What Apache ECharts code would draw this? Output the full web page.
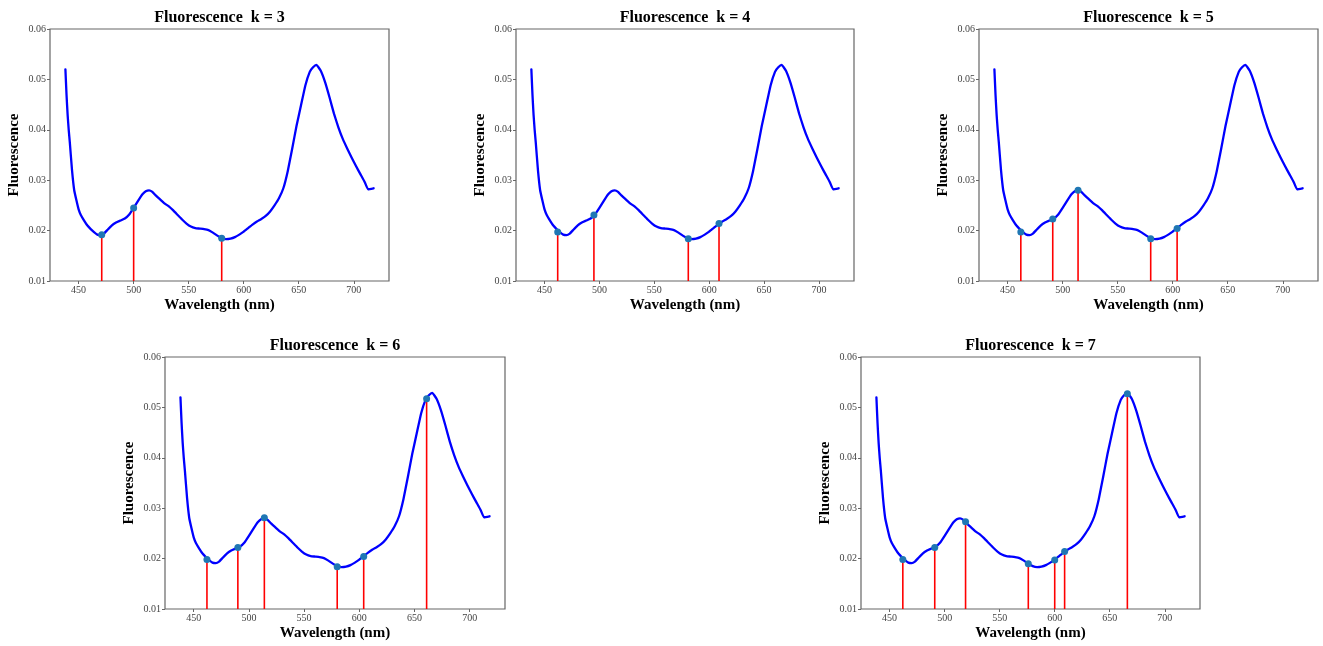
<!DOCTYPE html>
<html>
<head>
<meta charset="utf-8">
<title>Fluorescence k = 3..7</title>
<script src="https://cdn.jsdelivr.net/npm/echarts@6/dist/echarts.min.js"></script>
<style>
  html, body { margin: 0; padding: 0; background: #fff; }
  #chart { width: 1323px; height: 646px; }
</style>
</head>
<body>
<div id="chart"></div>
<script>
// 光谱曲线 (nm, 荧光值)
const wavelength = [438, 439, 440, 441, 442, 444, 446, 448, 450, 452, 455, 458, 461, 464, 467, 470, 473, 476, 480, 484, 488, 492, 496, 500, 504, 508, 511, 514, 517, 520, 524, 528, 532, 536, 540, 544, 548, 552, 556, 560, 564, 568, 572, 576, 580, 584, 588, 592, 596, 600, 604, 608, 612, 616, 620, 624, 628, 632, 636, 640, 644, 648, 652, 656, 660, 663, 666, 670, 674, 678, 682, 686, 690, 694, 698, 702, 706, 710, 713, 718]
const fluorescence = [0.0520, 0.0470, 0.0430, 0.0400, 0.0375, 0.0320, 0.0280, 0.0260, 0.0242, 0.0231, 0.0220, 0.0210, 0.0203, 0.0197, 0.0192, 0.0191, 0.0194, 0.0201, 0.0210, 0.0216, 0.0220, 0.0224, 0.0232, 0.0245, 0.0259, 0.0272, 0.0278, 0.0280, 0.0277, 0.0270, 0.0262, 0.0254, 0.0248, 0.0240, 0.0231, 0.0222, 0.0214, 0.0208, 0.0205, 0.0204, 0.0203, 0.0201, 0.0196, 0.0190, 0.0185, 0.0183, 0.0184, 0.0187, 0.0192, 0.0198, 0.0205, 0.0212, 0.0218, 0.0223, 0.0229, 0.0238, 0.0250, 0.0264, 0.0284, 0.0318, 0.0362, 0.0408, 0.0448, 0.0488, 0.0515, 0.0524, 0.0529, 0.0517, 0.0494, 0.0464, 0.0432, 0.0405, 0.0382, 0.0363, 0.0345, 0.0328, 0.0312, 0.0296, 0.0282, 0.0284]

// 每个 k 选出的波段
const kValues = [3, 4, 5, 6, 7]
const pickWavelength = [
  [471, 500, 580],
  [462, 495, 581, 609],
  [462, 491, 514, 580, 604],
  [462, 490, 514, 580, 604, 661],
  [462, 491, 519, 576, 600, 609, 666]
]
const pickValue = [
  [0.0192, 0.0245, 0.0185],
  [0.0197, 0.0231, 0.0184, 0.0214],
  [0.0197, 0.0223, 0.0280, 0.0184, 0.0204],
  [0.0198, 0.0222, 0.0281, 0.0184, 0.0204, 0.0517],
  [0.0198, 0.0222, 0.0273, 0.0190, 0.0197, 0.0214, 0.0527]
]

// 坐标轴刻度
const xTicks = [450, 500, 550, 600, 650, 700]
const xRange = [424, 732]
const yRange = [0.01, 0.06]

// 子图位置 [left, top, width, height]
const panels = [
  [50, 29, 339, 252],
  [516, 29, 338, 252],
  [979, 29, 339, 252],
  [165, 357, 340, 252],
  [861, 357, 339, 252]
]

const FONT = '"Liberation Serif", "DejaVu Serif", serif'
const AXIS_COLOR = '#666'

const chart = echarts.init(document.getElementById('chart'), null, { renderer: 'canvas' })

const curve = wavelength.map((w, i) => [w, fluorescence[i]])

const title = []
const grid = []
const xAxis = []
const yAxis = []
const series = []

panels.forEach((p, i) => {
  const [left, top, width, height] = p
  title.push({
    text: 'Fluorescence  k = ' + kValues[i],
    left: left + width / 2,
    top: top - 19,
    textAlign: 'center',
    padding: 0,
    textStyle: { fontFamily: FONT, fontSize: 16, fontWeight: 'bold', color: '#000' }
  })
  grid.push({
    left, top, width, height,
    show: true,
    borderColor: AXIS_COLOR,
    borderWidth: 1.2,
    backgroundColor: 'transparent'
  })
  xAxis.push({
    type: 'value',
    gridIndex: i,
    min: xRange[0],
    max: xRange[1],
    name: 'Wavelength (nm)',
    nameLocation: 'middle',
    nameGap: 17,
    nameTextStyle: { fontFamily: FONT, fontSize: 15, fontWeight: 'bold', color: '#000', verticalAlign: 'top' },
    axisLine: { show: false },
    axisTick: { show: true, length: 3, customValues: xTicks, lineStyle: { color: AXIS_COLOR, width: 1 } },
    axisLabel: { customValues: xTicks, margin: 4, fontFamily: FONT, fontSize: 10, color: '#444' },
    splitLine: { show: false }
  })
  yAxis.push({
    type: 'value',
    gridIndex: i,
    min: yRange[0],
    max: yRange[1],
    interval: 0.01,
    name: 'Fluorescence',
    nameLocation: 'middle',
    nameGap: 28,
    nameTextStyle: { fontFamily: FONT, fontSize: 15, fontWeight: 'bold', color: '#000' },
    axisLine: { show: false },
    axisTick: { show: true, length: 3, lineStyle: { color: AXIS_COLOR, width: 1 } },
    axisLabel: { margin: 4, fontFamily: FONT, fontSize: 10, color: '#444', formatter: v => v.toFixed(2) },
    splitLine: { show: false }
  })
  series.push({
    type: 'line',
    xAxisIndex: i,
    yAxisIndex: i,
    data: curve,
    showSymbol: false,
    smooth: 0.12,
    lineStyle: { color: '#0000ff', width: 2.3, join: 'round', cap: 'round' },
    silent: true,
    z: 2
  })
  const picks = pickWavelength[i].map((w, j) => [w, pickValue[i][j]])
  // 红色竖线，从轴底到选中点
  series.push({
    type: 'custom',
    xAxisIndex: i,
    yAxisIndex: i,
    data: picks,
    renderItem: (params, api) => {
      const top = api.coord([api.value(0), api.value(1)])
      const bottom = api.coord([api.value(0), yRange[0]])
      return {
        type: 'line',
        shape: { x1: top[0], y1: top[1], x2: bottom[0], y2: bottom[1] },
        style: { stroke: '#ff0000', lineWidth: 1.6 }
      }
    },
    silent: true,
    z: 3
  })
  series.push({
    type: 'scatter',
    xAxisIndex: i,
    yAxisIndex: i,
    data: picks,
    symbolSize: 7,
    itemStyle: { color: '#1f77b4', opacity: 1 },
    silent: true,
    z: 4
  })
})

chart.setOption({
  animation: false,
  title,
  grid,
  xAxis,
  yAxis,
  series
})
</script>
</body>
</html>
